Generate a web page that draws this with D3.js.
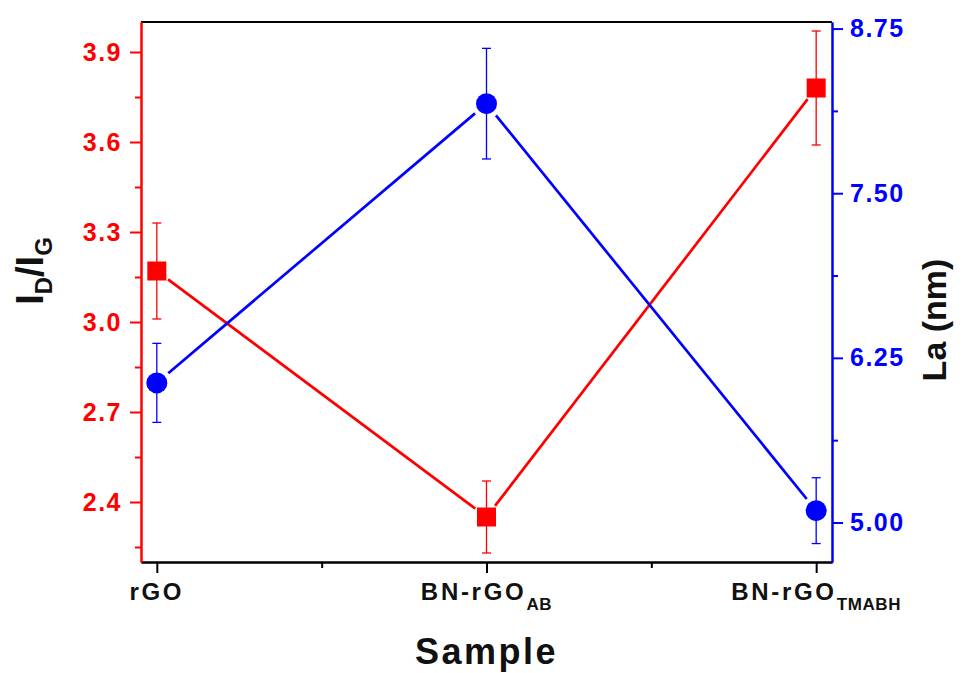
<!DOCTYPE html>
<html>
<head>
<meta charset="utf-8">
<script src="https://cdn.jsdelivr.net/npm/d3@7"></script>
<style>
  body { margin: 0; background: #fff; }
  svg { font-family: "Liberation Sans", Arial, sans-serif; font-weight: bold; }
</style>
</head>
<body>
<svg id="chart" width="963" height="673"></svg>
<script>
// samples on the x axis, main name + subscript
var samples = ["rGO", "BN-rGO", "BN-rGO"];
var sampleSubs = ["", "AB", "TMABH"];

// ID/IG (left axis, red squares)
var idig = [3.17, 2.35, 3.78];
var idigErr = [0.16, 0.12, 0.19];

// La in nm (right axis, blue circles)
var la = [6.06, 8.18, 5.09];
var laErr = [0.30, 0.42, 0.25];

var leftTicks = [2.4, 2.7, 3.0, 3.3, 3.6, 3.9];
var leftMinor = [2.25, 2.55, 2.85, 3.15, 3.45, 3.75];
var rightTicks = [5.00, 6.25, 7.50, 8.75];
var rightMinor = [5.625, 6.875, 8.125];
var xMinor = [0.5, 1.5];

var RED = "#f00", BLUE = "#00f";
var box = { left: 141, right: 832, top: 22, bottom: 562 };

var svg = d3.select("#chart");

var x = d3.scaleLinear().domain([-0.048, 2.048]).range([box.left, box.right]);
var yL = d3.scaleLinear().domain([2.2, 4.0]).range([box.bottom, box.top]);
var yR = d3.scaleLinear().domain([4.7, 8.8]).range([box.bottom, box.top]);

// top frame line
svg.append("line")
  .attr("x1", box.left).attr("x2", box.right)
  .attr("y1", box.top).attr("y2", box.top)
  .attr("stroke", "#000").attr("stroke-width", 2);

// bottom axis
var gx = svg.append("g").attr("transform", `translate(0,${box.bottom})`);
gx.call(d3.axisBottom(x).tickValues([0, 1, 2]).tickSize(11).tickSizeOuter(0).tickFormat(""));
gx.append("g").call(d3.axisBottom(x).tickValues(xMinor).tickSize(6).tickSizeOuter(0).tickFormat(""));
gx.selectAll("path, line").attr("stroke", "#000").attr("stroke-width", 2);

var xl = svg.append("g");
samples.forEach((s, i) => {
  var t = xl.append("text")
    .attr("x", x(i)).attr("y", 600)
    .attr("text-anchor", "middle")
    .attr("fill", "#111")
    .attr("font-size", 24)
    .attr("letter-spacing", 2.7);
  t.append("tspan").text(s);
  if (sampleSubs[i]) {
    t.append("tspan").attr("dy", 10).attr("font-size", 17).attr("letter-spacing", 0.6).text(sampleSubs[i]);
  }
});

svg.append("text")
  .attr("x", x(1)).attr("y", 664)
  .attr("text-anchor", "middle")
  .attr("font-size", 36).attr("letter-spacing", 2.5)
  .attr("fill", "#111")
  .text("Sample");

// left axis (red)
var gl = svg.append("g").attr("transform", `translate(${box.left},0)`);
gl.call(d3.axisLeft(yL).tickValues(leftTicks).tickSize(11).tickSizeOuter(0).tickPadding(8).tickFormat(d3.format(".1f")));
gl.append("g").call(d3.axisLeft(yL).tickValues(leftMinor).tickSize(6).tickSizeOuter(0).tickFormat(""));
gl.selectAll("path, line").attr("stroke", RED).attr("stroke-width", 2);
gl.selectAll("text").attr("fill", RED).attr("font-size", 25).attr("letter-spacing", 1.5).attr("font-family", null);

// right axis (blue)
var gr = svg.append("g").attr("transform", `translate(${box.right},0)`);
gr.call(d3.axisRight(yR).tickValues(rightTicks).tickSize(11).tickSizeOuter(0).tickPadding(7).tickFormat(d3.format(".2f")));
gr.append("g").call(d3.axisRight(yR).tickValues(rightMinor).tickSize(6).tickSizeOuter(0).tickFormat(""));
gr.selectAll("path, line").attr("stroke", BLUE).attr("stroke-width", 2);
gr.selectAll("text").attr("fill", BLUE).attr("font-size", 25).attr("letter-spacing", 1.5).attr("font-family", null);

// axis titles
var tl = svg.append("text")
  .attr("transform", "translate(43,271) rotate(-90)")
  .attr("text-anchor", "middle")
  .attr("fill", "#111")
  .attr("font-size", 38);
tl.append("tspan").text("I");
tl.append("tspan").attr("dy", 9).attr("font-size", 24).text("D");
tl.append("tspan").attr("dy", -9).text("/I");
tl.append("tspan").attr("dy", 9).attr("font-size", 24).text("G");

svg.append("text")
  .attr("transform", "translate(946,320) rotate(-90)")
  .attr("text-anchor", "middle")
  .attr("fill", "#111")
  .attr("font-size", 34)
  .text("La (nm)");

// helper: connecting segments with a small gap near each marker
function drawSeries(vals, errs, y, color, gap) {
  var pts = vals.map((v, i) => [x(i), y(v)]);
  var g = svg.append("g");
  for (var i = 0; i < pts.length - 1; i++) {
    var a = pts[i], b = pts[i + 1];
    var dx = b[0] - a[0], dy = b[1] - a[1], len = Math.hypot(dx, dy);
    var ux = dx / len, uy = dy / len;
    g.append("line")
      .attr("x1", a[0] + ux * gap).attr("y1", a[1] + uy * gap)
      .attr("x2", b[0] - ux * gap).attr("y2", b[1] - uy * gap)
      .attr("stroke", color).attr("stroke-width", 2.7);
  }
  // error bars
  var eb = g.selectAll(".eb").data(vals).enter().append("g");
  eb.append("line")
    .attr("x1", (d, i) => x(i)).attr("x2", (d, i) => x(i))
    .attr("y1", (d, i) => y(d + errs[i])).attr("y2", (d, i) => y(d - errs[i]))
    .attr("stroke", color).attr("stroke-width", 1.3);
  [1, -1].forEach(sgn => {
    eb.append("line")
      .attr("x1", (d, i) => x(i) - 4.5).attr("x2", (d, i) => x(i) + 4.5)
      .attr("y1", (d, i) => y(d + sgn * errs[i])).attr("y2", (d, i) => y(d + sgn * errs[i]))
      .attr("stroke", color).attr("stroke-width", 1.3);
  });
  return g;
}

var gRed = drawSeries(idig, idigErr, yL, RED, 14);
gRed.selectAll(".sq").data(idig).enter().append("rect")
  .attr("x", (d, i) => x(i) - 9.5).attr("y", d => yL(d) - 9.5)
  .attr("width", 19).attr("height", 19)
  .attr("fill", RED);

var gBlue = drawSeries(la, laErr, yR, BLUE, 15);
gBlue.selectAll(".ci").data(la).enter().append("circle")
  .attr("cx", (d, i) => x(i)).attr("cy", d => yR(d))
  .attr("r", 10.5)
  .attr("fill", BLUE);
</script>
</body>
</html>
